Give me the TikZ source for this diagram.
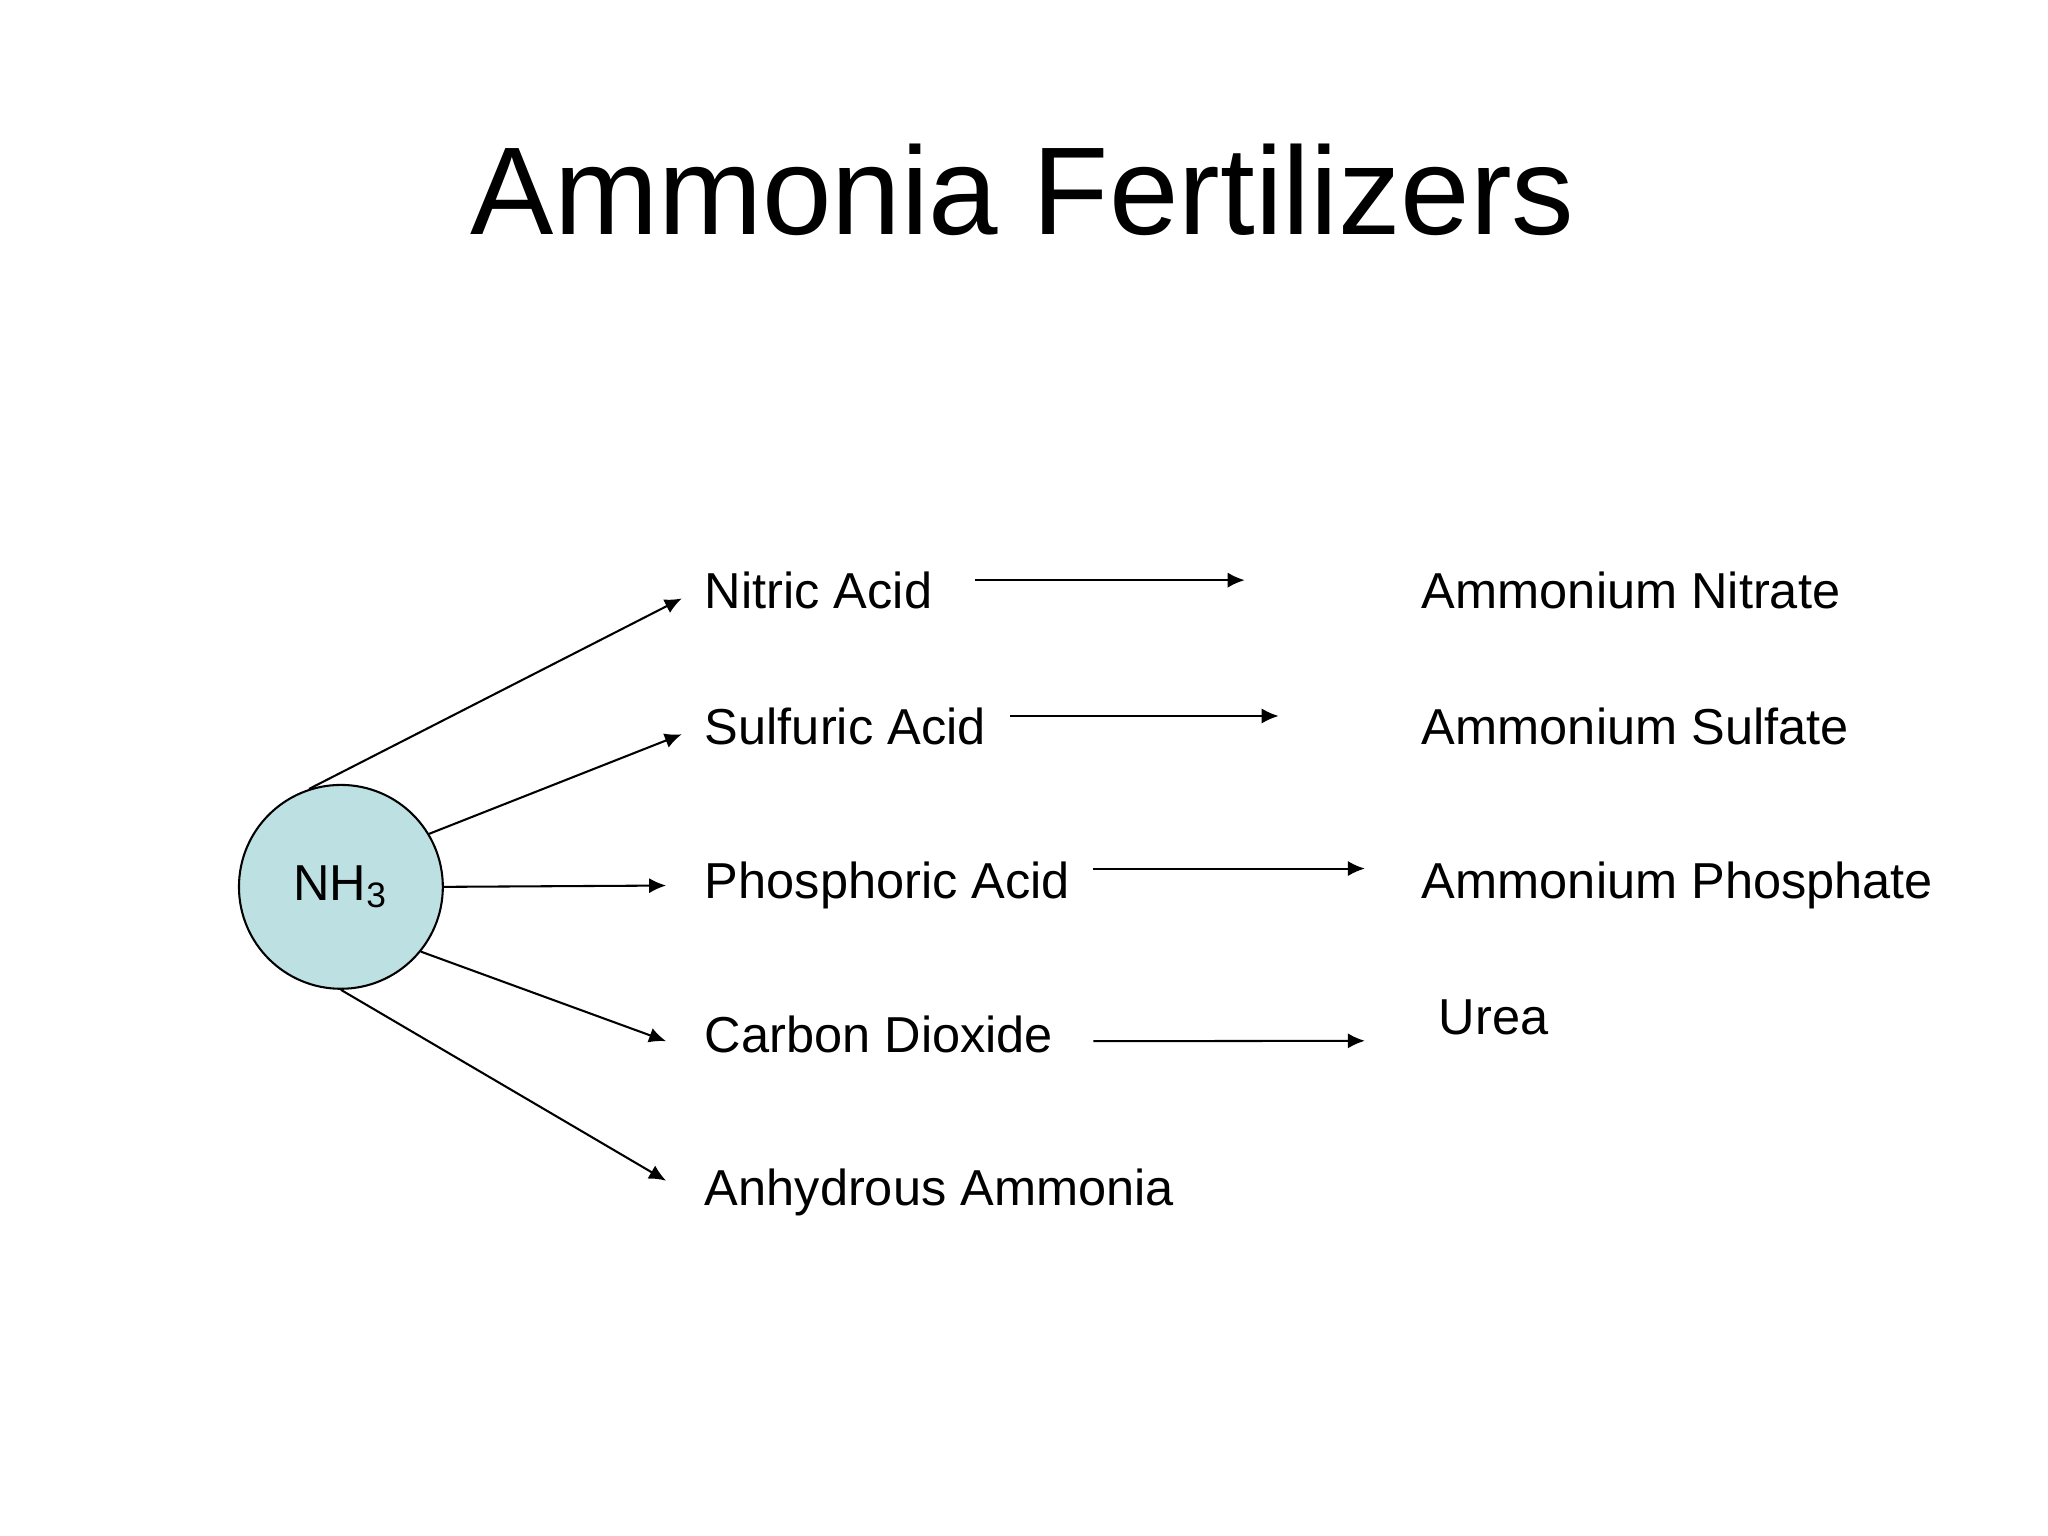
\documentclass[tikz,border=0pt]{standalone}
\usepackage{fontspec}
\setmainfont{Liberation Sans}
\usetikzlibrary{arrows.meta,positioning}
\definecolor{nhblue}{RGB}{189,224,227}

\begin{document}
\begin{tikzpicture}[x=0.01cm,y=-0.01cm,
        item/.style={anchor=base west,inner sep=0pt,font=\fontsize{11}{13}\selectfont},
        arr/.style={line width=0.45pt,-{Latex[length=3.7pt,width=3.3pt]}}]
        \useasboundingbox[fill=white] (0,0) rectangle (1568,1176);
        % title
        \node[font=\fontsize{27.2}{32}\selectfont] (title) at (783,145) {Ammonia Fertilizers};
        % ammonia
        \node[circle,draw,line width=0.45pt,fill=nhblue,minimum size=1.56cm,inner sep=0pt,
            font=\fontsize{11}{13}\selectfont] (nh) at (261,679) {NH\textsubscript{3}};
        % acids
        \node[item] (nitric) at (539,466) {Nitric Acid};
        \node[item] (sulfuric) at (539,570) {Sulfuric Acid};
        \node[item] (phos) at (539,688) {Phosphoric Acid};
        \node[item] (carbon) at (539,806) {Carbon Dioxide};
        \node[item] (anhyd) at (539,923) {Anhydrous Ammonia};
        % products
        \node[item] (amnit) at (1088,466) {Ammonium Nitrate};
        \node[item] (amsulf) at (1088,570) {Ammonium Sulfate};
        \node[item] (amphos) at (1088,688) {Ammonium Phosphate};
        \node[item] (urea) at (1101,792) {Urea};
        % from NH3
        \draw[arr] (nh.108) -- ([shift={(-17,6)}]nitric.west);
        \draw[arr] (nh.31) -- ([shift={(-17,6)}]sulfuric.west);
        \draw[arr] (nh.east) -- ([shift={(-29,0)}]phos.west);
        \draw[arr] (nh.-39) -- ([shift={(-29,5)}]carbon.west);
        \draw[arr] (nh.south) -- ([shift={(-29,-9)}]anhyd.west);
        % to products
        \draw[arr] ([shift={(32,-8)}]nitric.east) -- ([shift={(-135,-8)}]amnit.west);
        \draw[arr] ([shift={(18,-8)}]sulfuric.east) -- ([shift={(-109,-8)}]amsulf.west);
        \draw[arr] ([shift={(17,-13)}]phos.east) -- ([shift={(-43,-13)}]amphos.west);
        \draw[arr] ([shift={(30,5)}]carbon.east) -- ([shift={(-56,18)}]urea.west);
\end{tikzpicture}
\end{document}
